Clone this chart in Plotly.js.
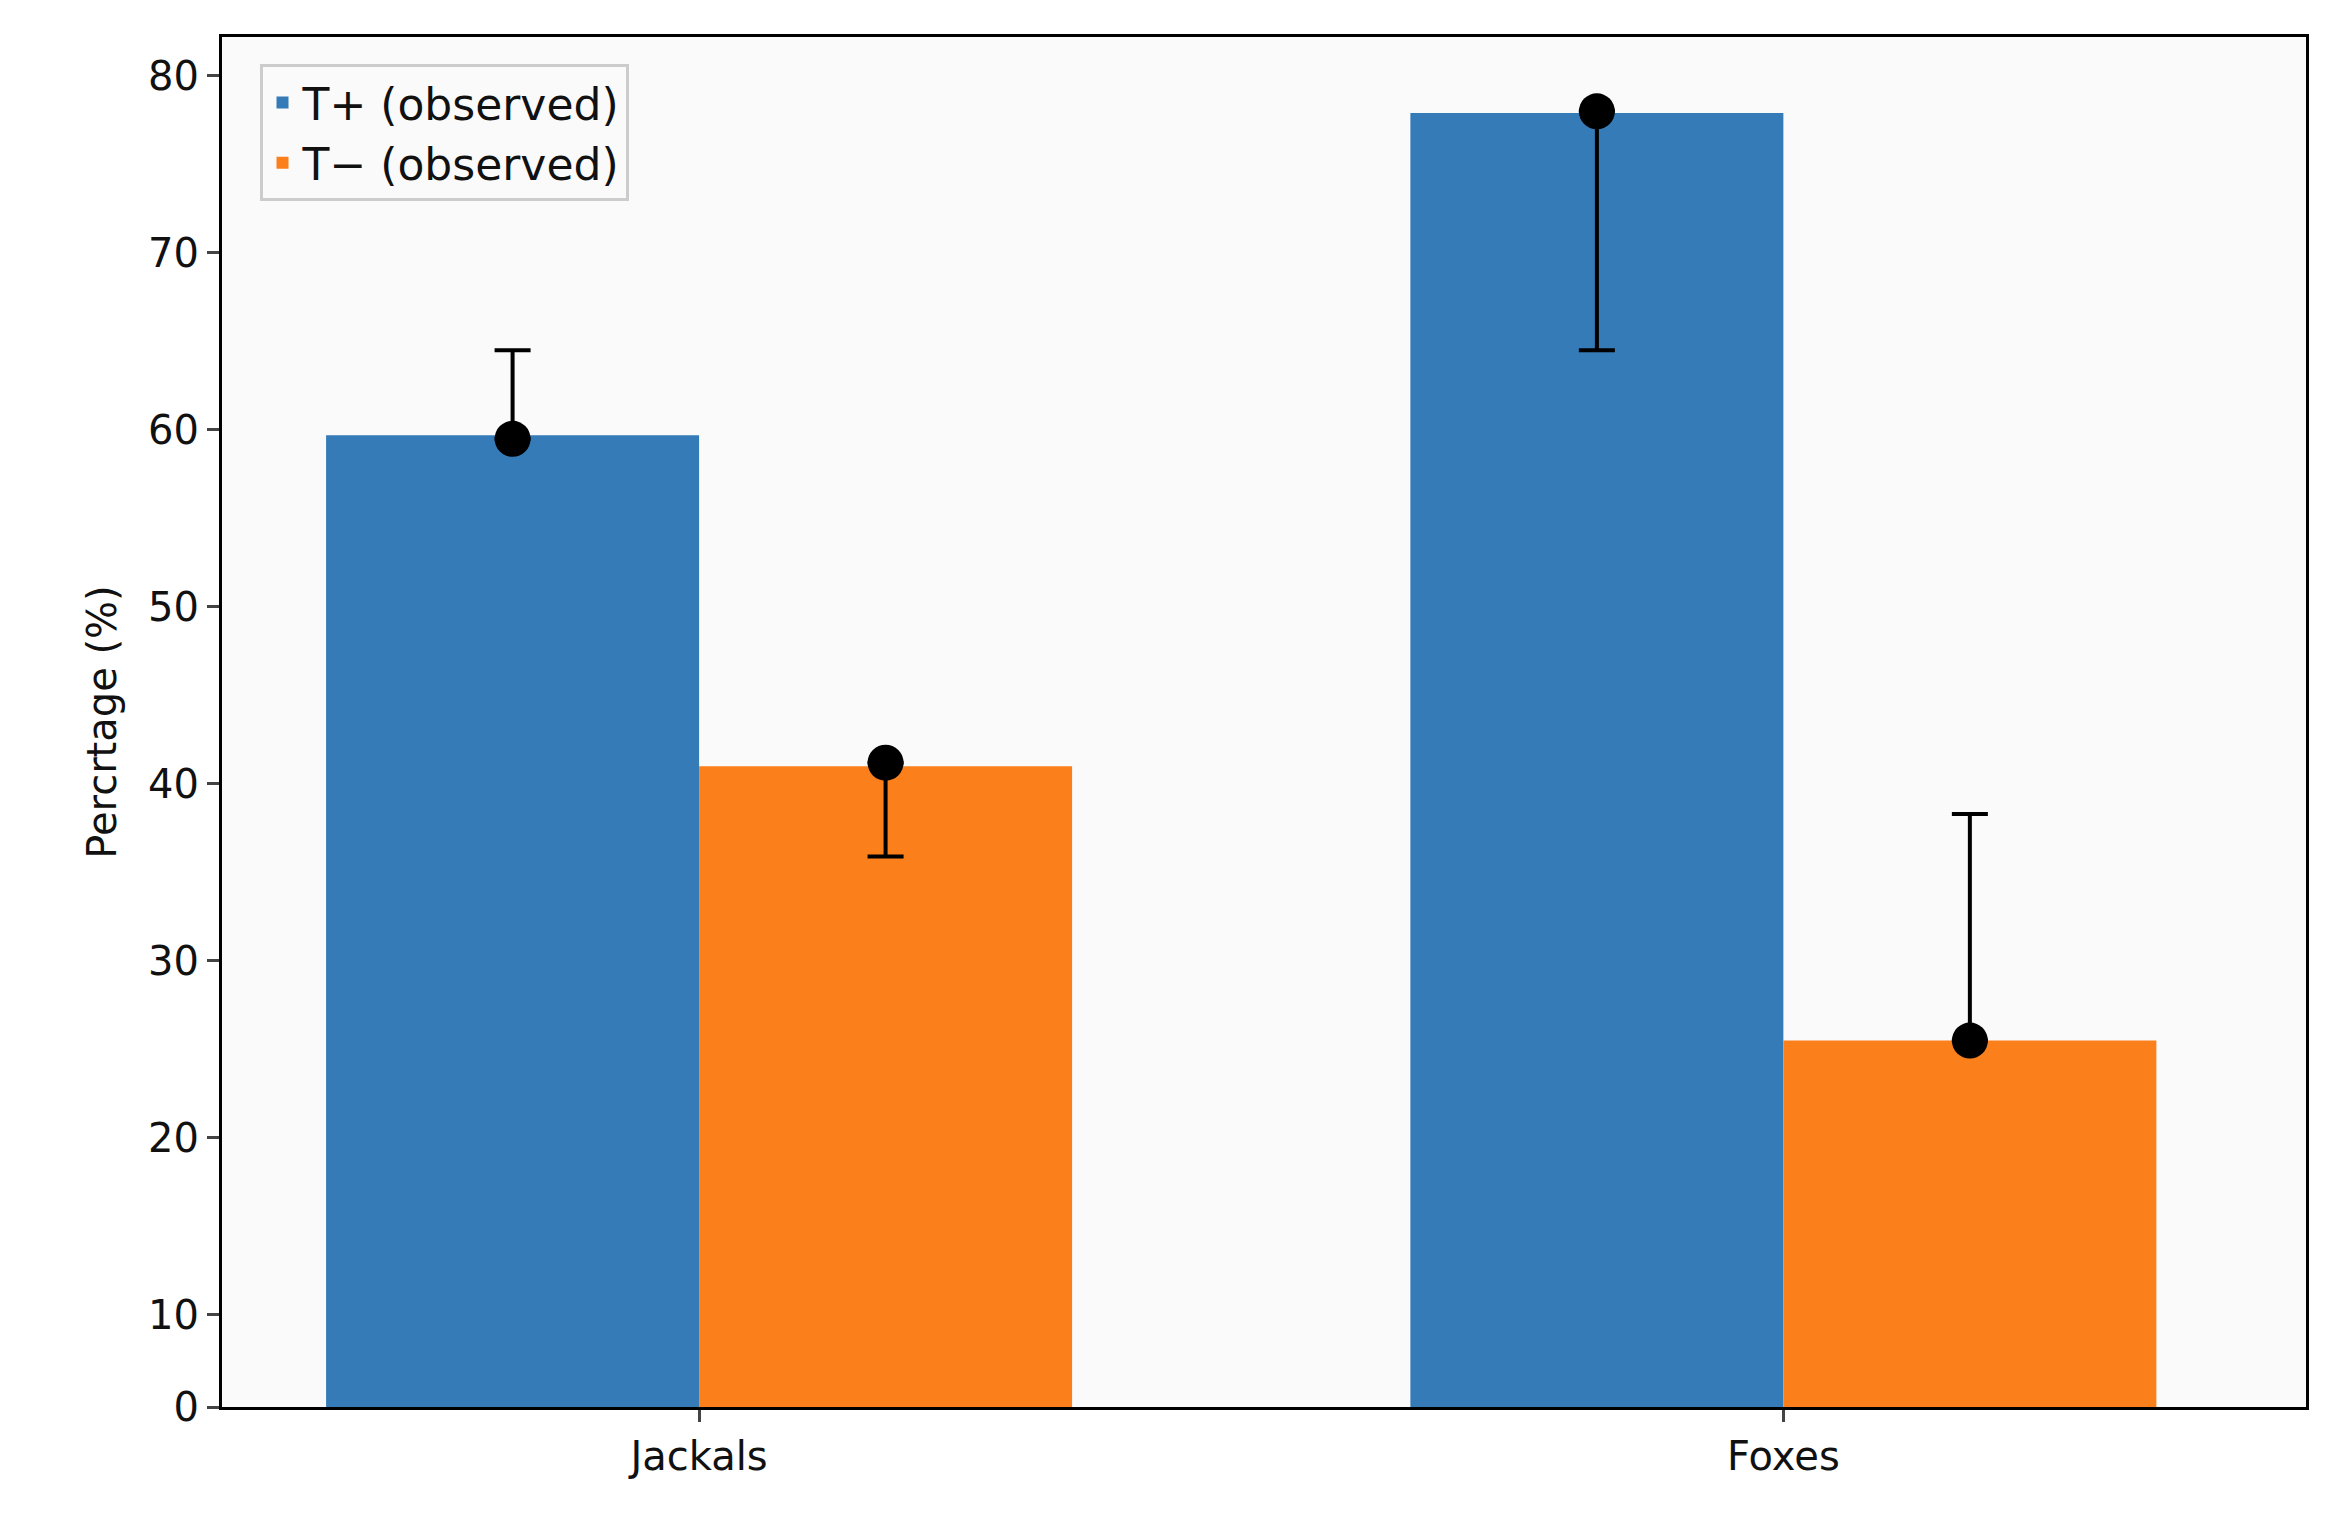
<!DOCTYPE html>
<html>
<head>
<meta charset="utf-8">
<script src="https://cdn.plot.ly/plotly-3.0.1.min.js"></script>
<style>body{margin:0;background:#fff}#plot{width:2339px;height:1523px}</style>
</head>
<body>
<div id="plot"></div>
<script>
// category positions and values
var categories = ['Jackals', 'Foxes']
var cat_x = [0, 1]
var tplus_bar = [59.7, 77.9]
var tminus_bar = [41.0, 25.5]
var tplus_point = [59.5, 78.0]
var tplus_err_up = [5.0, 0]
var tplus_err_down = [0, 13.5]
var tminus_point = [41.2, 25.5]
var tminus_err_up = [0, 12.8]
var tminus_err_down = [5.3, 0]
// the axis bottom is labelled 0 but sits near 4.8 on the scale
var tick_vals = [4.8, 10, 20, 30, 40, 50, 60, 70, 80]
var tick_text = ['0', '10', '20', '30', '40', '50', '60', '70', '80']

var off = 0.172
var bw = 0.344
var blue_x = cat_x.map(function(v){ return v - off })
var orange_x = cat_x.map(function(v){ return v + off })
var font = {family: 'DejaVu Sans', size: 40, color: '#111'}

var traces = [
   {type: 'bar', name: 'T+ (observed)', x: blue_x, y: tplus_bar, width: bw,
      base: 0, marker: {color: '#347bb8'}},
   {type: 'bar', name: 'T\u2212 (observed)', x: orange_x, y: tminus_bar, width: bw,
      base: 0, marker: {color: '#fb7f1a'}},
   {type: 'scatter', mode: 'markers', showlegend: false, x: blue_x, y: tplus_point,
      marker: {color: '#000', size: 36},
      error_y: {type: 'data', symmetric: false, array: tplus_err_up, arrayminus: tplus_err_down,
         color: '#000', thickness: 4, width: 18}},
   {type: 'scatter', mode: 'markers', showlegend: false, x: orange_x, y: tminus_point,
      marker: {color: '#000', size: 36},
      error_y: {type: 'data', symmetric: false, array: tminus_err_up, arrayminus: tminus_err_down,
         color: '#000', thickness: 4, width: 18}}
]

var layout = {
   width: 2339, height: 1523,
   margin: {l: 222, r: 33, t: 37, b: 116},
   paper_bgcolor: '#fff',
   plot_bgcolor: '#fafafa',
   barmode: 'overlay',
   font: font,
   xaxis: {range: [-0.44, 1.482], tickvals: cat_x, ticktext: categories,
      showgrid: false, zeroline: false, showline: true, mirror: true,
      linecolor: '#000', linewidth: 3, ticks: 'outside', ticklen: 12, tickwidth: 3,
      tickfont: font},
   yaxis: {range: [4.8, 82.2], tickvals: tick_vals, ticktext: tick_text,
      showgrid: false, zeroline: false, showline: true, mirror: true,
      linecolor: '#000', linewidth: 3, ticks: 'outside', ticklen: 12, tickwidth: 3,
      tickfont: font,
      title: {text: 'Percrtage (%)', font: font, standoff: 20}},
   legend: {x: 0.018, y: 0.98, xanchor: 'left', yanchor: 'top',
      bgcolor: '#fafafa', bordercolor: '#ccc', borderwidth: 3,
      font: {family: 'DejaVu Sans', size: 44, color: '#111'}},
   showlegend: true
}

Plotly.newPlot('plot', traces, layout, {displayModeBar: false})
</script>
</body>
</html>
